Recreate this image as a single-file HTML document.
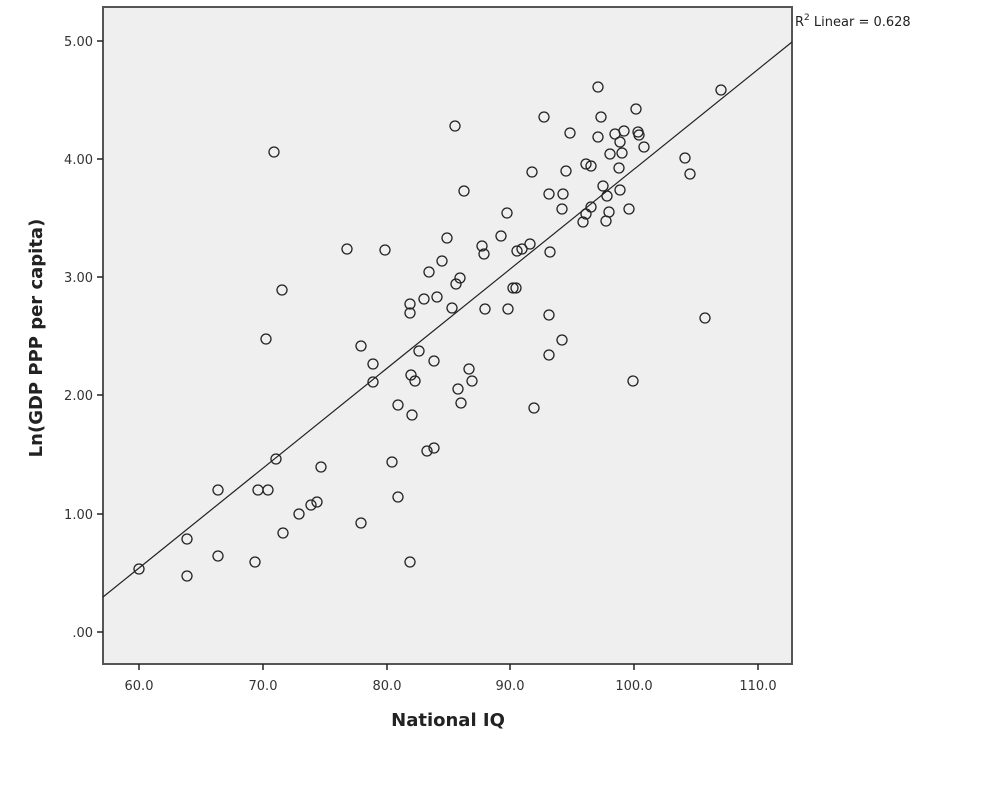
<!DOCTYPE html>
<html><head><style>body{margin:0;background:#fff;}svg{display:block}</style></head><body>
<svg width="1004" height="789" xmlns="http://www.w3.org/2000/svg" font-family="'DejaVu Sans', sans-serif">
<rect x="103" y="7" width="689" height="657" fill="#efefef" stroke="#555" stroke-width="2"/>
<g stroke="#222" stroke-width="1.5">
<line x1="97" y1="41" x2="103" y2="41"/><line x1="97" y1="159" x2="103" y2="159"/><line x1="97" y1="277" x2="103" y2="277"/><line x1="97" y1="395" x2="103" y2="395"/><line x1="97" y1="514" x2="103" y2="514"/><line x1="97" y1="632" x2="103" y2="632"/>
<line x1="139" y1="664" x2="139" y2="670"/><line x1="263" y1="664" x2="263" y2="670"/><line x1="387" y1="664" x2="387" y2="670"/><line x1="510" y1="664" x2="510" y2="670"/><line x1="634" y1="664" x2="634" y2="670"/><line x1="758" y1="664" x2="758" y2="670"/>
</g>
<g font-size="13" fill="#333" text-anchor="end">
<text x="93" y="46">5.00</text><text x="93" y="164">4.00</text><text x="93" y="282">3.00</text><text x="93" y="400">2.00</text><text x="93" y="519">1.00</text><text x="93" y="637">.00</text>
</g>
<g font-size="13" fill="#333" text-anchor="middle">
<text x="139" y="690">60.0</text><text x="263" y="690">70.0</text><text x="387" y="690">80.0</text><text x="510" y="690">90.0</text><text x="634" y="690">100.0</text><text x="758" y="690">110.0</text>
</g>
<text x="448" y="726" font-size="18" font-weight="bold" fill="#222" text-anchor="middle">National IQ</text>
<text transform="translate(42,338) rotate(-90)" font-size="18" font-weight="bold" fill="#222" text-anchor="middle">Ln(GDP PPP per capita)</text>
<text x="795" y="26" font-size="13" fill="#222">R<tspan dy="-6" font-size="9">2</tspan><tspan dy="6"> Linear = 0.628</tspan></text>
<line x1="103" y1="597" x2="792" y2="42" stroke="#222" stroke-width="1.2"/>
<g fill="none" stroke="#222" stroke-width="1.3">
<circle cx="139" cy="569" r="5"/><circle cx="187" cy="539" r="5"/><circle cx="187" cy="576" r="5"/><circle cx="218" cy="490" r="5"/><circle cx="218" cy="556" r="5"/><circle cx="255" cy="562" r="5"/><circle cx="258" cy="490" r="5"/><circle cx="268" cy="490" r="5"/><circle cx="266" cy="339" r="5"/><circle cx="274" cy="152" r="5"/><circle cx="276" cy="459" r="5"/><circle cx="282" cy="290" r="5"/><circle cx="283" cy="533" r="5"/><circle cx="299" cy="514" r="5"/><circle cx="311" cy="505" r="5"/><circle cx="317" cy="502" r="5"/><circle cx="321" cy="467" r="5"/><circle cx="347" cy="249" r="5"/><circle cx="361" cy="523" r="5"/><circle cx="361" cy="346" r="5"/><circle cx="373" cy="364" r="5"/><circle cx="373" cy="382" r="5"/><circle cx="385" cy="250" r="5"/><circle cx="392" cy="462" r="5"/><circle cx="398" cy="497" r="5"/><circle cx="398" cy="405" r="5"/><circle cx="410" cy="304" r="5"/><circle cx="410" cy="313" r="5"/><circle cx="412" cy="415" r="5"/><circle cx="410" cy="562" r="5"/><circle cx="411" cy="375" r="5"/><circle cx="415" cy="381" r="5"/><circle cx="419" cy="351" r="5"/><circle cx="424" cy="299" r="5"/><circle cx="427" cy="451" r="5"/><circle cx="429" cy="272" r="5"/><circle cx="434" cy="448" r="5"/><circle cx="434" cy="361" r="5"/><circle cx="437" cy="297" r="5"/><circle cx="442" cy="261" r="5"/><circle cx="447" cy="238" r="5"/><circle cx="452" cy="308" r="5"/><circle cx="455" cy="126" r="5"/><circle cx="456" cy="284" r="5"/><circle cx="458" cy="389" r="5"/><circle cx="460" cy="278" r="5"/><circle cx="461" cy="403" r="5"/><circle cx="464" cy="191" r="5"/><circle cx="469" cy="369" r="5"/><circle cx="472" cy="381" r="5"/><circle cx="482" cy="246" r="5"/><circle cx="484" cy="254" r="5"/><circle cx="485" cy="309" r="5"/><circle cx="501" cy="236" r="5"/><circle cx="507" cy="213" r="5"/><circle cx="508" cy="309" r="5"/><circle cx="513" cy="288" r="5"/><circle cx="516" cy="288" r="5"/><circle cx="517" cy="251" r="5"/><circle cx="522" cy="249" r="5"/><circle cx="530" cy="244" r="5"/><circle cx="532" cy="172" r="5"/><circle cx="534" cy="408" r="5"/><circle cx="544" cy="117" r="5"/><circle cx="549" cy="194" r="5"/><circle cx="549" cy="315" r="5"/><circle cx="549" cy="355" r="5"/><circle cx="550" cy="252" r="5"/><circle cx="562" cy="209" r="5"/><circle cx="563" cy="194" r="5"/><circle cx="562" cy="340" r="5"/><circle cx="566" cy="171" r="5"/><circle cx="570" cy="133" r="5"/><circle cx="583" cy="222" r="5"/><circle cx="586" cy="214" r="5"/><circle cx="586" cy="164" r="5"/><circle cx="591" cy="207" r="5"/><circle cx="591" cy="166" r="5"/><circle cx="598" cy="87" r="5"/><circle cx="598" cy="137" r="5"/><circle cx="601" cy="117" r="5"/><circle cx="603" cy="186" r="5"/><circle cx="606" cy="221" r="5"/><circle cx="607" cy="196" r="5"/><circle cx="610" cy="154" r="5"/><circle cx="609" cy="212" r="5"/><circle cx="615" cy="134" r="5"/><circle cx="619" cy="168" r="5"/><circle cx="620" cy="190" r="5"/><circle cx="620" cy="142" r="5"/><circle cx="622" cy="153" r="5"/><circle cx="624" cy="131" r="5"/><circle cx="629" cy="209" r="5"/><circle cx="633" cy="381" r="5"/><circle cx="636" cy="109" r="5"/><circle cx="638" cy="132" r="5"/><circle cx="639" cy="135" r="5"/><circle cx="644" cy="147" r="5"/><circle cx="685" cy="158" r="5"/><circle cx="690" cy="174" r="5"/><circle cx="705" cy="318" r="5"/><circle cx="721" cy="90" r="5"/>
</g>
</svg>
</body></html>
